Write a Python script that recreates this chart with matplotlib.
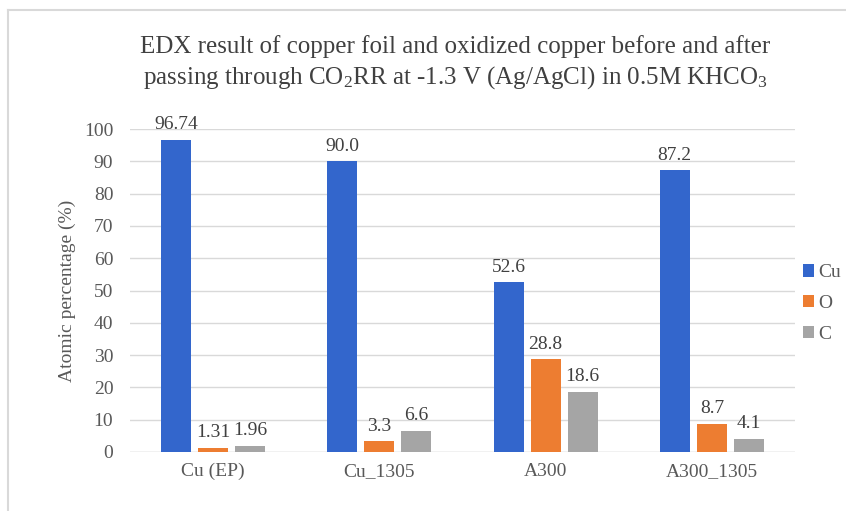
import matplotlib.pyplot as plt
import numpy as np
from matplotlib.lines import Line2D

# Datos
samples = ["Cu (EP)", "Cu_1305", "A300", "A300_1305"]
cu_vals = [96.74, 90.0, 52.6, 87.2]
o_vals = [1.31, 3.3, 28.8, 8.7]
c_vals = [1.96, 6.6, 18.6, 4.1]
cu_labels = ["96.74", "90.0", "52.6", "87.2"]
o_labels = ["1.31", "3.3", "28.8", "8.7"]
c_labels = ["1.96", "6.6", "18.6", "4.1"]
series_names = ["Cu", "O", "C"]

colors = ["#3366CC", "#ED7D31", "#A5A5A5"]

plt.rcParams["font.family"] = ["Liberation Serif", "DejaVu Serif"]
plt.rcParams["mathtext.fontset"] = "custom"
plt.rcParams["mathtext.rm"] = "Liberation Serif"
plt.rcParams["mathtext.it"] = "Liberation Serif:italic"

fig = plt.figure(figsize=(8.46, 5.11), dpi=100)
W, H = 846, 511
ax = fig.add_axes([130 / W, 1 - 452 / H, 665 / W, 323 / H])

x = np.arange(len(samples))
width = 0.18
step = 0.223

all_vals = [cu_vals, o_vals, c_vals]
all_labels = [cu_labels, o_labels, c_labels]
for i, (vals, labs) in enumerate(zip(all_vals, all_labels)):
    pos = x + (i - 1) * step
    bars = ax.bar(pos, vals, width, color=colors[i], label=series_names[i], zorder=3)
    for b, lab in zip(bars, labs):
        ax.text(b.get_x() + b.get_width() / 2, b.get_height() + 2.0, lab,
                ha="center", va="bottom", fontsize=14, color="#404040")

ax.set_xlim(-0.5, len(samples) - 0.5)
ax.set_ylim(0, 100)
ax.set_yticks(range(0, 101, 10))
ax.set_xticks(x)
ax.set_xticklabels(samples)
ax.tick_params(axis="both", length=0, labelsize=14, labelcolor="#595959")
ax.tick_params(axis="x", pad=8)
ax.tick_params(axis="y", pad=12)
ax.grid(axis="y", color="#D9D9D9", linewidth=1, zorder=0)
for s in ax.spines.values():
    s.set_visible(False)
ax.axhline(0, color="#D9D9D9", linewidth=1, zorder=2)

ax.set_ylabel("Atomic percentage (%)", fontsize=14, color="#595959", labelpad=6)

fig.text(455 / W, 1 - 63 / H,
         "EDX result of copper foil and oxidized copper before and after\n"
         "passing through CO$_2$RR at -1.3 V (Ag/AgCl) in 0.5M KHCO$_3$",
         ha="center", va="center", fontsize=18, color="#404040", linespacing=1.3)

leg = ax.legend(loc="center left", bbox_to_anchor=(1.0, 0.46), frameon=False,
                fontsize=14, handlelength=0.6, handleheight=0.6, handletextpad=0.2,
                labelspacing=0.7, labelcolor="#595959", borderaxespad=0.0)

# Marco del gráfico
fig.add_artist(Line2D([8 / W, 1], [1 - 10 / H, 1 - 10 / H], color="#D9D9D9", linewidth=1.5))
fig.add_artist(Line2D([8 / W, 8 / W], [0, 1 - 10 / H], color="#D9D9D9", linewidth=1.5))

fig.savefig("out.png", dpi=100)
